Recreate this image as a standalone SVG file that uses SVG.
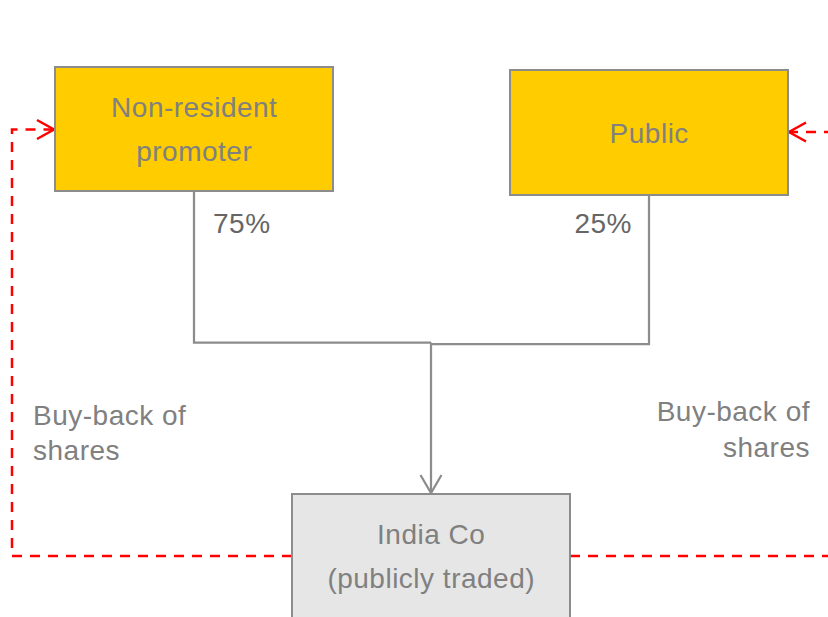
<svg xmlns="http://www.w3.org/2000/svg" width="828" height="617" viewBox="0 0 828 617">
  <style>
    .box { stroke: #8c8c8c; stroke-width: 2; }
    .holder { fill: #ffcc00; }
    .company { fill: #e6e6e6; }
    .label { font-family: "Liberation Sans", Arial, sans-serif; font-size: 28px; letter-spacing: 0.5px; fill: #808080; }
    .pct { font-family: "Liberation Sans", Arial, sans-serif; font-size: 28px; letter-spacing: 0.5px; fill: #666666; }
    .own { fill: none; stroke: #8c8c8c; stroke-width: 2.25; }
    .buyback { fill: none; stroke: #ff0000; stroke-width: 2.5; stroke-dasharray: 10 8; }
  </style>
  <defs>
    <marker id="grayHead" markerUnits="userSpaceOnUse" markerWidth="30" markerHeight="30" viewBox="-20 -15 30 30" refX="0" refY="0" orient="auto">
      <path d="M-18,-10.5 L0,0 L-18,10.5" fill="none" stroke="#8c8c8c" stroke-width="2.25"/>
    </marker>
    <marker id="redHead" markerUnits="userSpaceOnUse" markerWidth="30" markerHeight="30" viewBox="-20 -15 30 30" refX="0" refY="0" orient="auto">
      <path d="M-17,-9.5 L0,0 L-17,9.5" fill="none" stroke="#ff0000" stroke-width="2.5"/>
    </marker>
  </defs>

  <!-- connectors -->
  <g id="connectors">
    <path class="own" d="M194,191 L194,342.5 L431,342.5"/>
    <path class="own" d="M649,195 L649,344 L431,344"/>
    <path class="own" d="M431,342.5 L431,493" marker-end="url(#grayHead)"/>
    <path class="buyback" d="M292,556 L12,556 L12,129.5 L54,129.5" marker-end="url(#redHead)"/>
    <path class="buyback" d="M570,556 L850,556 L850,132 L789,132" marker-end="url(#redHead)"/>
  </g>

  <!-- ownership percentages -->
  <text class="pct" x="213" y="233">75%</text>
  <text class="pct" x="632" y="233" text-anchor="end">25%</text>

  <!-- buy-back labels -->
  <text class="label" x="33" y="425">Buy-back of</text>
  <text class="label" x="33" y="460">shares</text>
  <text class="label" x="810" y="421" text-anchor="end">Buy-back of</text>
  <text class="label" x="810" y="457" text-anchor="end">shares</text>

  <g id="promoter">
    <rect class="box holder" x="55" y="67" width="278" height="124"/>
    <text class="label" x="194.25" y="117" text-anchor="middle">Non-resident</text>
    <text class="label" x="194.25" y="161" text-anchor="middle">promoter</text>
  </g>

  <g id="public">
    <rect class="box holder" x="510" y="70" width="278" height="125"/>
    <text class="label" x="649.25" y="143" text-anchor="middle">Public</text>
  </g>

  <g id="india-co">
    <rect class="box company" x="292" y="494" width="278" height="140"/>
    <text class="label" x="431.25" y="544" text-anchor="middle">India Co</text>
    <text class="label" x="431.25" y="588" text-anchor="middle">(publicly traded)</text>
  </g>
</svg>
